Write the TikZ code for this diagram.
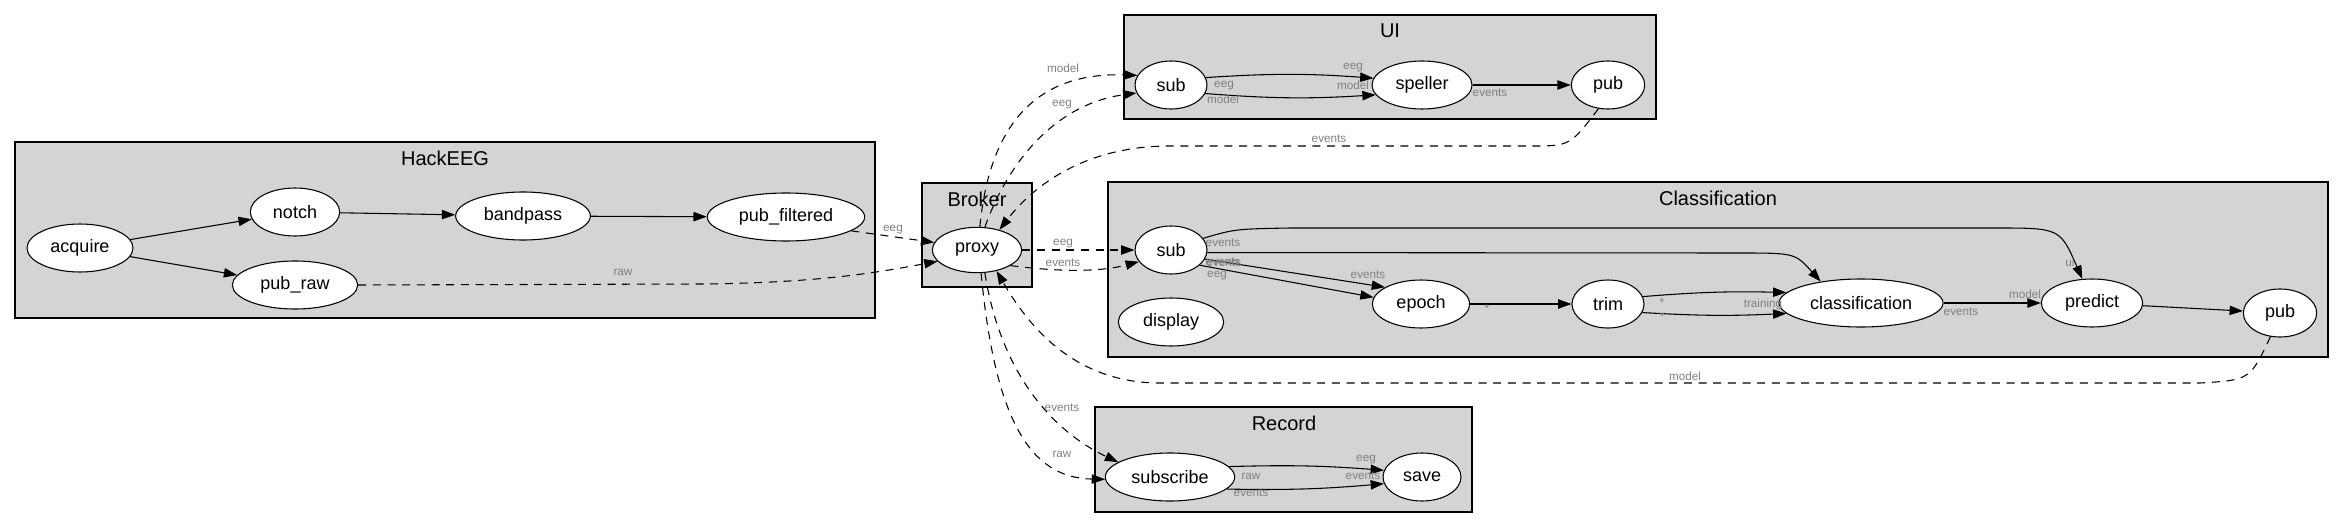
\documentclass[tikz,border=0pt]{standalone}
\usepackage{fontspec}
\setmainfont{Liberation Sans}
\usetikzlibrary{arrows.meta,shapes.geometric}
\begin{document}
\begin{tikzpicture}[x=0.75pt,y=-0.75pt,line width=0.8pt,
proc/.style={draw,ellipse,fill=white,inner sep=0pt,minimum height=36pt,font=\fontsize{13.5}{16}\selectfont},
cluster/.style={draw,fill=black!17},
ctitle/.style={inner sep=0pt,font=\fontsize{15}{18}\selectfont},
elabel/.style={inner sep=0pt,text=black!50,font=\fontsize{8.8}{10}\selectfont},
flow/.style={-{Triangle[length=10pt,width=7pt]}},
bus/.style={flow,dash pattern=on 6pt off 5pt}]
\useasboundingbox (0,0) rectangle (2344,528);
% clusters
\draw[cluster] (15,142) rectangle (875,318);
\draw (445,158) node[ctitle] (tHack) {HackEEG};
\draw[cluster] (922,183) rectangle (1032,287);
\draw (977,199) node[ctitle] (tBroker) {Broker};
\draw[cluster] (1124,15) rectangle (1656,119);
\draw (1390,31) node[ctitle] (tUI) {UI};
\draw[cluster] (1108,182) rectangle (2328,357);
\draw (1718,198) node[ctitle] (tCls) {Classification};
\draw[cluster] (1095,407) rectangle (1472,512);
\draw (1284,423) node[ctitle] (tRec) {Record};
% nodes
\draw (80,248) node[proc,minimum width=79.5pt] (acquire) {acquire};
\draw (295,212) node[proc,minimum width=67pt] (notch) {notch};
\draw (523,216) node[proc,minimum width=101pt] (bandpass) {bandpass};
\draw (786,217) node[proc,minimum width=118pt] (pubFilt) {pub\_filtered};
\draw (295,285) node[proc,minimum width=94pt] (pubRaw) {pub\_raw};
\draw (977,250) node[proc,minimum width=67pt,minimum height=34pt] (proxy) {proxy};
\draw (1171,85) node[proc,minimum width=54pt] (uiSub) {sub};
\draw (1422,85) node[proc,minimum width=75pt] (speller) {speller};
\draw (1608,85) node[proc,minimum width=55pt] (uiPub) {pub};
\draw (1171,250) node[proc,minimum width=54pt] (clsSub) {sub};
\draw (1171,322) node[proc,minimum width=79pt] (display) {display};
\draw (1421,304) node[proc,minimum width=73pt] (epoch) {epoch};
\draw (1608,304) node[proc,minimum width=54pt] (trim) {trim};
\draw (1861,303) node[proc,minimum width=123pt] (classif) {classification};
\draw (2092,303) node[proc,minimum width=76pt] (predict) {predict};
\draw (2280,313) node[proc,minimum width=55pt] (clsPub) {pub};
\draw (1170,477) node[proc,minimum width=97pt] (subscribe) {subscribe};
\draw (1422,477) node[proc,minimum width=58.5pt] (save) {save};
% solid edges
\draw[flow] (acquire) -- (notch);
\draw[flow] (acquire) -- (pubRaw);
\draw[flow] (notch) -- (bandpass);
\draw[flow] (bandpass) -- (pubFilt);
\draw[flow] (uiSub.12) to[bend left=4] (speller.172);
\draw[flow] (uiSub.-14) to[bend right=4] (speller.-168);
\draw[flow] (speller) -- (uiPub);
\draw[flow] (clsSub.20) .. controls (1235,229) .. (1290,228) -- (1995,228) .. controls (2060,228) .. (predict.112);
\draw[flow] (clsSub.-4) -- (1738,253) .. controls (1795,253) .. (classif.152);
\draw[flow] (clsSub.-15) -- (epoch.155);
\draw[flow] (clsSub.-28) -- (epoch.172);
\draw[flow] (epoch) -- (trim);
\draw[flow] (trim.12) to[bend left=3] (classif.172);
\draw[flow] (trim.-14) to[bend right=3] (classif.-172);
\draw[flow] (classif) -- (predict);
\draw[flow] (predict) -- (clsPub);
\draw[flow] (subscribe.10) to[bend left=3] (save.170);
\draw[flow] (subscribe.-12) to[bend right=3] (save.-170);
% dashed edges through the broker
\draw[bus] (pubFilt.-12) -- (proxy.170);
\draw[bus] (pubRaw.east) -- (700,284) .. controls (820,283) and (880,272) .. (proxy.196);
\draw[bus] (proxy.83) .. controls (990,120) and (1040,72) .. (uiSub.164);
\draw[bus] (proxy.71) .. controls (1005,170) and (1050,105) .. (uiSub.193);
\draw[bus] (uiPub.-112) .. controls (1570,146) .. (1530,146) -- (1170,146) .. controls (1080,146) and (1030,190) .. (proxy.42);
\draw[bus] (proxy.east) -- (clsSub.west);
\draw[bus] (proxy.-25) .. controls (1060,272) and (1100,272) .. (clsSub.-160);
\draw[bus] (clsPub.-112) .. controls (2250,380) .. (2200,383) -- (1160,383) .. controls (1070,383) and (1025,320) .. (proxy.-47);
\draw[bus] (proxy.-71) .. controls (1000,370) and (1050,430) .. (subscribe.164);
\draw[bus] (proxy.-80) .. controls (995,420) and (1030,478) .. (subscribe.182);
% edge labels
\draw (893,230) node[elabel] (lFilt) {eeg};
\draw (623,272) node[elabel] (lRaw) {raw};
\draw (1063,68) node[elabel] (lUiModel) {model};
\draw (1062,105) node[elabel] (lUiEeg) {eeg};
\draw (1329,139) node[elabel] (lUiEvents) {events};
\draw (1063,244) node[elabel] (lClsEeg) {eeg};
\draw (1063,263) node[elabel] (lClsEvents) {events};
\draw (1685,376) node[elabel] (lPubModel) {model};
\draw (1062,408) node[elabel] (lRecEvents) {events};
\draw (1062,454) node[elabel] (lRecRaw) {raw};
\draw (1224,86) node[elabel] (lSubEeg) {eeg};
\draw (1223,99) node[elabel] (lSubModel) {model};
\draw (1353,68) node[elabel] (lSpEeg) {eeg};
\draw (1353,85) node[elabel] (lSpModel) {model};
\draw (1490,93) node[elabel] (lSpEvents) {events};
\draw (1223,243) node[elabel] (lCs1) {events};
\draw (1223,262) node[elabel] (lCs2) {events};
\draw (1224,262.5) node[elabel] (lCs3) {events};
\draw (1217,276) node[elabel] (lCs4) {eeg};
\draw (1368,275) node[elabel] (lEpEvents) {events};
\draw (2070,262) node[elabel] (lUi) {ui};
\draw (1487,308) node[elabel] (lStar1) {*};
\draw (1662,302) node[elabel] (lStar2) {*};
\draw (1662,316) node[elabel] (lStar3) {*};
\draw (1763,304) node[elabel] (lTrain) {training};
\draw (2025,294) node[elabel] (lPrModel) {model};
\draw (1961,312) node[elabel] (lClEvents) {events};
\draw (1251,476) node[elabel] (lSbRaw) {raw};
\draw (1251,493) node[elabel] (lSbEvents) {events};
\draw (1366,460) node[elabel] (lSvEeg) {eeg};
\draw (1363,476) node[elabel] (lSvEvents) {events};
\end{tikzpicture}
\end{document}
